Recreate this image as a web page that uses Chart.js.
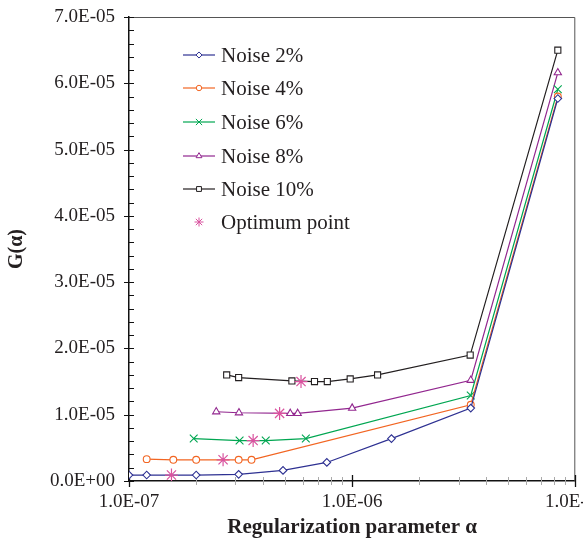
<!DOCTYPE html>
<html>
<head>
<meta charset="utf-8">
<script src="https://cdn.jsdelivr.net/npm/chart.js@4/dist/chart.umd.min.js"></script>
<style>
  html, body { margin: 0; padding: 0; background: #fff; }
  canvas { display: block; }
</style>
</head>
<body>
<canvas id="gChart" width="583" height="542"></canvas>
<script>
// values: regularization parameter alpha and G(alpha)
var alpha2 = [1.0e-7, 1.2e-7, 2.0e-7, 3.1e-7, 4.9e-7, 7.7e-7, 1.5e-6, 3.4e-6, 8.35e-6];
var g2     = [0.09e-5, 0.09e-5, 0.09e-5, 0.10e-5, 0.16e-5, 0.28e-5, 0.64e-5, 1.10e-5, 5.77e-5];

var alpha4 = [1.2e-7, 1.58e-7, 2.0e-7, 3.1e-7, 3.54e-7, 3.4e-6, 8.35e-6];
var g4     = [0.33e-5, 0.32e-5, 0.32e-5, 0.32e-5, 0.32e-5, 1.15e-5, 5.80e-5];

var alpha6 = [1.95e-7, 3.13e-7, 4.1e-7, 6.2e-7, 3.4e-6, 8.35e-6];
var g6     = [0.64e-5, 0.61e-5, 0.61e-5, 0.64e-5, 1.29e-5, 5.91e-5];

var alpha8 = [2.46e-7, 3.11e-7, 5.28e-7, 5.7e-7, 1.0e-6, 3.4e-6, 8.35e-6];
var g8     = [1.045e-5, 1.03e-5, 1.02e-5, 1.02e-5, 1.10e-5, 1.52e-5, 6.16e-5];

var alpha10 = [2.74e-7, 3.1e-7, 5.37e-7, 6.78e-7, 7.74e-7, 9.8e-7, 1.3e-6, 3.38e-6, 8.35e-6];
var g10     = [1.60e-5, 1.56e-5, 1.51e-5, 1.50e-5, 1.50e-5, 1.54e-5, 1.60e-5, 1.90e-5, 6.50e-5];

var optAlpha = [1.55e-7, 2.64e-7, 3.6e-7, 4.73e-7, 5.9e-7];
var optG     = [0.09e-5, 0.32e-5, 0.61e-5, 1.02e-5, 1.50e-5];

var seriesNames = ['Noise 2%', 'Noise 4%', 'Noise 6%', 'Noise 8%', 'Noise 10%', 'Optimum point'];
var yTicks = [0, 1e-5, 2e-5, 3e-5, 4e-5, 5e-5, 6e-5, 7e-5];

function pairs(xs, ys) {
    return xs.map(function (x, i) { return { x: x, y: ys[i] }; });
}

function fmt(v) {
    if (Math.abs(v) < 1e-20) return '0.0E+00';
    var e = Math.floor(Math.log10(v) + 1e-9);
    var m = v / Math.pow(10, e);
    var ae = Math.abs(e);
    return m.toFixed(1) + 'E' + (e < 0 ? '-' : '+') + (ae < 10 ? '0' : '') + ae;
}

function isDecade(v) {
    var e = Math.log10(v);
    return Math.abs(e - Math.round(e)) < 1e-6;
}

var serif = "'Liberation Serif', 'Times New Roman', serif";

function lineSet(name, xs, ys, color, style, radius) {
    return {
        label: name,
        data: pairs(xs, ys),
        borderColor: color,
        borderWidth: 1.2,
        pointStyle: style,
        pointRadius: radius,
        pointBorderColor: color,
        pointBackgroundColor: '#fff',
        pointBorderWidth: 1.1,
        tension: 0
    };
}

var datasets = [
    {
        label: seriesNames[5],
        data: pairs(optAlpha, optG),
        showLine: false,
        pointStyle: 'star',
        pointRadius: 6.5,
        pointBorderColor: '#d9539f',
        pointBorderWidth: 1.2,
        order: 0
    },
    lineSet(seriesNames[0], alpha2, g2, '#2e3192', 'rectRot', 3.8),
    lineSet(seriesNames[1], alpha4, g4, '#f26522', 'circle', 3.4),
    lineSet(seriesNames[2], alpha6, g6, '#00a651', 'crossRot', 5.5),
    lineSet(seriesNames[3], alpha8, g8, '#92278f', 'triangle', 4.2),
    lineSet(seriesNames[4], alpha10, g10, '#231f20', 'rect', 4.3)
];
for (var i = 1; i < datasets.length; i++) datasets[i].order = i;

// tick marks and the frame drawn through the scales
var framePlugin = {
    id: 'frame',
    beforeDatasetsDraw: function (chart) {
        var ctx = chart.ctx, a = chart.chartArea;
        var xs = chart.scales.x, ys = chart.scales.y;
        ctx.save();
        ctx.strokeStyle = '#555';
        ctx.lineWidth = 1;
        ctx.beginPath();
        ctx.moveTo(a.left, a.top + 0.5);
        ctx.lineTo(a.right - 0.5, a.top + 0.5);
        ctx.lineTo(a.right - 0.5, a.bottom);
        ctx.stroke();

        // x ticks
        xs.ticks.forEach(function (t) {
            var px = Math.round(xs.getPixelForValue(t.value)) + 0.5;
            if (isDecade(t.value)) {
                ctx.strokeStyle = '#111';
                ctx.lineWidth = 1.3;
                ctx.beginPath();
                ctx.moveTo(px, a.bottom - 6);
                ctx.lineTo(px, a.bottom + 6);
                ctx.stroke();
            } else {
                ctx.strokeStyle = '#aaa';
                ctx.lineWidth = 1;
                ctx.beginPath();
                ctx.moveTo(px, a.bottom - 4);
                ctx.lineTo(px, a.bottom + 4);
                ctx.stroke();
            }
        });

        // y ticks, minor every 0.2E-05
        ctx.strokeStyle = '#111';
        for (var k = 0; k <= 35; k++) {
            var v = k * 2e-6;
            var py = Math.round(ys.getPixelForValue(v)) + 0.5;
            ctx.lineWidth = 1;
            ctx.beginPath();
            if (k % 5 === 0) {
                ctx.moveTo(a.left - 5, py);
            } else {
                ctx.moveTo(a.left, py);
            }
            ctx.lineTo(a.left + 5, py);
            ctx.stroke();
        }
        ctx.restore();
    },
    afterDraw: function (chart) {
        // legend drawn as line + marker sample, like the original figure
        var ctx = chart.ctx;
        var rows = [55, 88, 122, 156, 189, 222];
        var order = [1, 2, 3, 4, 5, 0];
        ctx.save();
        order.forEach(function (di, r) {
            var ds = chart.data.datasets[di];
            var y = rows[r];
            if (ds.showLine !== false) {
                ctx.strokeStyle = ds.borderColor;
                ctx.lineWidth = 1.2;
                ctx.beginPath();
                ctx.moveTo(183, y);
                ctx.lineTo(215, y);
                ctx.stroke();
            }
            ctx.fillStyle = ds.pointBackgroundColor || '#fff';
            ctx.strokeStyle = ds.pointBorderColor;
            ctx.lineWidth = 1;
            Chart.helpers.drawPoint(ctx, {
                pointStyle: ds.pointStyle,
                radius: ds.showLine === false ? 4.5 : ds.pointRadius * 0.8,
                rotation: 0,
                borderWidth: 1
            }, 199, y);
            ctx.fillStyle = '#231f20';
            ctx.font = '21px ' + serif;
            ctx.textAlign = 'left';
            ctx.textBaseline = 'middle';
            ctx.fillText(ds.label, 221, y + 1);
        });
        ctx.restore();
    }
};

new Chart(document.getElementById('gChart'), {
    type: 'line',
    data: { datasets: datasets },
    options: {
        responsive: false,
        animation: false,
        devicePixelRatio: 1,
        layout: { padding: { top: 17, right: 5, left: 0, bottom: 0 } },
        plugins: {
            legend: { display: false },
            tooltip: { enabled: false }
        },
        scales: {
            x: {
                type: 'logarithmic',
                min: 1e-7,
                max: 1e-5,
                afterBuildTicks: function (scale) {
                    var t = [];
                    for (var e = -7; e < -5; e++) {
                        for (var m = 1; m < 10; m++) t.push({ value: m * Math.pow(10, e) });
                    }
                    t.push({ value: 1e-5 });
                    scale.ticks = t;
                },
                afterFit: function (scale) {
                    scale.height = 61;
                    scale.paddingLeft = 0;
                    scale.paddingRight = 0;
                },
                grid: { drawOnChartArea: false, drawTicks: false },
                border: { display: true, color: '#111', width: 1.5 },
                ticks: {
                    autoSkip: false,
                    maxRotation: 0,
                    minRotation: 0,
                    padding: 10,
                    color: '#231f20',
                    font: { family: serif, size: 19 },
                    callback: function (v) { return isDecade(v) ? fmt(v) : ''; }
                },
                title: {
                    display: true,
                    text: 'Regularization parameter α',
                    color: '#231f20',
                    font: { family: serif, size: 21, weight: 'bold' },
                    padding: { top: 0, bottom: 2 }
                }
            },
            y: {
                type: 'linear',
                min: 0,
                max: 7e-5,
                afterBuildTicks: function (scale) {
                    scale.ticks = yTicks.map(function (v) { return { value: v }; });
                },
                afterFit: function (scale) {
                    scale.width = 129;
                    scale.paddingTop = 0;
                    scale.paddingBottom = 0;
                },
                grid: { drawOnChartArea: false, drawTicks: false },
                border: { display: true, color: '#111', width: 1.5 },
                ticks: {
                    padding: 14,
                    color: '#231f20',
                    font: { family: serif, size: 19 },
                    callback: function (v) { return fmt(v); }
                },
                title: {
                    display: true,
                    text: 'G(α)',
                    color: '#231f20',
                    font: { family: serif, size: 20, weight: 'bold' },
                    padding: { top: 5, bottom: 0 }
                }
            }
        }
    },
    plugins: [framePlugin]
});
</script>
</body>
</html>
